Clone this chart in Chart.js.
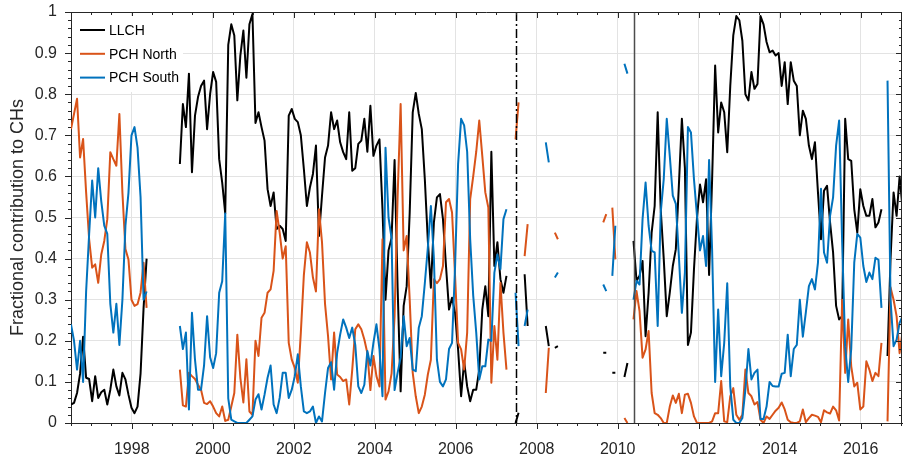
<!DOCTYPE html>
<html>
<head>
<meta charset="utf-8">
<script src="https://cdn.jsdelivr.net/npm/chart.js@4.4.1/dist/chart.umd.min.js"></script>
<style>
  html, body { margin: 0; padding: 0; background: #fff; }
  #wrap { width: 903px; height: 459px; position: relative; }
</style>
</head>
<body>
<div id="wrap"><canvas id="ch-chart"></canvas></div>
<script>
// one value per Carrington rotation, starting mid 1996
const startYear = 1996.5;
const rotationYears = 27.2753 / 365.25;

const seriesLabels = ['LLCH', 'PCH North', 'PCH South'];
const seriesColors = ['#000000', '#D95319', '#0072BD'];

const llch = [
  0.045, 0.049, 0.073, 0.12, 0.21, 0.11, 0.107, 0.053, 0.114, 0.061, 0.075, 0.081,
  0.045, 0.081, 0.13, 0.089, 0.067, 0.122, 0.106, 0.069, 0.037, 0.024, 0.04, 0.12,
  0.28, 0.40, null, null, null, null, null, null, null, null, null, null,
  0.63, 0.776, 0.72, 0.85, 0.61, 0.748, 0.793, 0.82, 0.833, 0.715, 0.80, 0.854,
  0.83, 0.642, 0.585, 0.51, 0.92, 0.97, 0.943, 0.785, 0.894, 0.955, 0.84, 0.97,
  0.995, 0.73, 0.756, 0.72, 0.687, 0.569, 0.528, 0.561, 0.472, 0.48, 0.472, 0.443,
  0.748, 0.764, 0.74, 0.732, 0.70, 0.618, 0.528, 0.573, 0.606, 0.675, 0.455, 0.553,
  0.646, 0.675, 0.756, 0.715, 0.736, 0.683, 0.659, 0.642, 0.756, 0.614, 0.62, 0.679,
  0.687, 0.74, 0.66, 0.772, 0.65, 0.675, 0.69, 0.52, 0.30, 0.42, 0.45, 0.64,
  0.33, 0.077, 0.285, 0.333, 0.512, 0.756, 0.803, 0.752, 0.715, 0.593, 0.443, 0.329,
  0.488, 0.549, 0.557, 0.496, 0.382, 0.276, 0.305, 0.268, 0.179, 0.065, 0.15, 0.089,
  0.053, 0.081, 0.081, 0.13, 0.276, 0.333, 0.26, 0.66, 0.382, 0.44, 0.35, 0.317,
  0.358, null, null, 0.0, 0.025, null, 0.362, 0.236, null, null, null, null,
  null, 0.236, 0.187, null, 0.183, 0.187, null, null, null, null, null, null,
  null, null, null, null, null, null, null, null, 0.171, 0.171, null, 0.122,
  0.122, null, null, 0.112, 0.146, null, 0.443, 0.346, 0.358, 0.394, 0.211, 0.317,
  0.463, 0.528, 0.756, 0.52, 0.40, 0.26, 0.317, 0.382, 0.423, 0.577, 0.74, 0.62,
  0.19, 0.22, 0.374, 0.50, 0.58, 0.537, 0.593, 0.36, 0.593, 0.87, 0.707, 0.78,
  0.756, 0.659, 0.82, 0.943, 0.99, 0.98, 0.93, 0.80, 0.785, 0.854, 0.813, 0.825,
  0.99, 0.97, 0.927, 0.902, 0.906, 0.894, 0.90, 0.82, 0.878, 0.776, 0.878, 0.833,
  0.82, 0.70, 0.76, 0.74, 0.675, 0.642, 0.683, 0.561, 0.447, 0.565, 0.577, 0.488,
  0.415, 0.285, 0.252, 0.26, 0.74, 0.642, 0.638, 0.52, 0.463, 0.569, 0.528, 0.504,
  0.504, 0.545, 0.476, 0.488, 0.52, null, 0.163, 0.40, 0.561, 0.504, 0.60, 0.52
];

const pchNorth = [
  0.715, 0.752, 0.789, 0.646, 0.691, 0.561, 0.447, 0.378, 0.386, 0.341, 0.41, 0.443,
  0.496, 0.659, 0.642, 0.626, 0.752, 0.561, 0.423, 0.398, 0.30, 0.285, 0.289, 0.317,
  0.39, 0.28, null, null, null, null, null, null, null, null, null, null,
  0.13, 0.043, 0.04, 0.122, 0.114, 0.107, 0.093, 0.081, 0.049, 0.046, 0.053, 0.04,
  0.024, 0.016, 0.04, 0.005, 0.008, 0.04, 0.073, 0.215, 0.11, 0.05, 0.155, 0.028,
  0.02, 0.2, 0.163, 0.256, 0.268, 0.317, 0.325, 0.37, 0.516, 0.463, 0.40, 0.43,
  0.195, 0.154, 0.134, 0.098, 0.22, 0.36, 0.44, 0.415, 0.354, 0.32, 0.52, 0.44,
  0.29, 0.211, 0.106, 0.22, 0.118, 0.112, 0.102, 0.106, 0.045, 0.13, 0.228, 0.24,
  0.228, 0.203, 0.17, 0.08, 0.163, 0.114, 0.089, 0.447, 0.057, 0.077, 0.12, 0.26,
  0.55, 0.776, 0.42, 0.455, 0.30, 0.122, 0.065, 0.024, 0.04, 0.069, 0.118, 0.154,
  0.35, 0.34, 0.35, 0.382, 0.537, 0.545, 0.512, 0.358, 0.195, 0.179, 0.13, 0.22,
  0.545, 0.60, 0.66, 0.736, 0.65, 0.561, 0.524, 0.098, 0.236, 0.154, 0.341, 0.22,
  0.13, null, null, 0.69, 0.78, null, 0.406, 0.484, null, null, null, null,
  null, 0.073, 0.183, null, 0.463, 0.447, null, null, null, null, null, null,
  null, null, null, null, null, null, null, null, 0.488, 0.508, null, 0.524,
  0.398, null, null, 0.012, 0.0, null, 0.252, 0.321, 0.272, 0.159, 0.179, 0.224,
  0.073, 0.024, 0.02, 0.012, 0.0, 0.0, 0.04, 0.067, 0.049, 0.071, 0.024, 0.069,
  0.071, 0.049, 0.016, 0.0, 0.0, 0.0, 0.0, 0.0, 0.004, 0.024, 0.024, 0.102,
  0.004, 0.002, 0.065, 0.085, 0.02, 0.008, 0.02, 0.13, 0.073, 0.065, 0.045, 0.051,
  0.008, 0.0, 0.016, 0.01, 0.02, 0.03, 0.037, 0.05, 0.033, 0.008, 0.002, 0.0,
  0.0, 0.004, 0.033, 0.002, 0.012, 0.02, 0.018, 0.015, 0.002, 0.031, 0.026, 0.023,
  0.04, 0.031, 0.006, 0.30, 0.122, 0.252, 0.138, 0.089, 0.098, 0.033, 0.04, 0.15,
  0.13, 0.102, 0.122, 0.114, 0.195, null, 0.004, 0.33, 0.30, 0.26, 0.17, 0.224
];

const pchSouth = [
  0.24, 0.20, 0.13, 0.20, 0.10, 0.32, 0.46, 0.59, 0.50, 0.62, 0.54, 0.48,
  0.46, 0.29, 0.22, 0.29, 0.19, 0.30, 0.48, 0.56, 0.70, 0.72, 0.67, 0.55,
  0.30, 0.32, null, null, null, null, null, null, null, null, null, null,
  0.236, 0.18, 0.22, 0.033, 0.268, 0.154, 0.081, 0.081, 0.14, 0.26, 0.16, 0.134,
  0.17, 0.317, 0.345, 0.51, 0.06, 0.008, 0.004, 0.0, 0.0, 0.0, 0.0, 0.008,
  0.016, 0.057, 0.07, 0.033, 0.069, 0.11, 0.14, 0.045, 0.024, 0.061, 0.122, 0.122,
  0.061, 0.081, 0.114, 0.167, 0.089, 0.028, 0.024, 0.028, 0.04, 0.0, 0.016, 0.004,
  0.073, 0.134, 0.148, 0.081, 0.17, 0.215, 0.252, 0.232, 0.207, 0.232, 0.19, 0.089,
  0.073, 0.093, 0.175, 0.14, 0.195, 0.24, 0.18, 0.065, 0.67, 0.50, 0.45, 0.08,
  0.122, 0.159, 0.26, 0.187, 0.207, 0.13, 0.126, 0.232, 0.26, 0.34, 0.427, 0.528,
  0.40, 0.154, 0.10, 0.089, 0.106, 0.18, 0.195, 0.38, 0.63, 0.74, 0.724, 0.66,
  0.447, 0.31, 0.22, 0.106, 0.138, 0.138, 0.203, 0.2, 0.366, 0.41, 0.374, 0.496,
  0.52, null, null, 0.317, 0.187, null, 0.236, 0.276, null, null, null, null,
  null, 0.683, 0.634, null, 0.354, 0.366, null, null, null, null, null, null,
  null, null, null, null, null, null, null, null, 0.337, 0.321, null, 0.358,
  0.48, null, null, 0.874, 0.85, null, 0.30, 0.346, 0.337, 0.496, 0.585, 0.48,
  0.419, 0.415, 0.236, 0.512, 0.593, 0.74, 0.65, 0.553, 0.533, 0.407, 0.268, 0.366,
  0.72, 0.707, 0.593, 0.504, 0.42, 0.455, 0.382, 0.64, 0.42, 0.10, 0.276, 0.114,
  0.195, 0.34, 0.089, 0.008, 0.0, 0.0, 0.012, 0.081, 0.18, 0.106, 0.122, 0.13,
  0.01, 0.01, 0.04, 0.1, 0.09, 0.089, 0.089, 0.12, 0.122, 0.215, 0.114, 0.18,
  0.19, 0.30, 0.21, 0.27, 0.333, 0.35, 0.325, 0.39, 0.57, 0.415, 0.39, 0.504,
  0.549, 0.675, 0.736, 0.44, 0.187, 0.10, 0.18, 0.39, 0.46, 0.451, 0.382, 0.343,
  0.366, 0.35, 0.402, 0.397, 0.28, null, 0.833, 0.30, 0.187, 0.203, 0.244, 0.26
];

const yearTicks = [1998, 2000, 2002, 2004, 2006, 2008, 2010, 2012, 2014, 2016];
const valueTicks = [0, 0.1, 0.2, 0.3, 0.4, 0.5, 0.6, 0.7, 0.8, 0.9, 1];
const dashDotYear = 2007.48;
const solidLineYear = 2010.40;

const xMin = 1996.5;
const xMax = 2017.02;
const fontFamily = '"Liberation Sans", Arial, Helvetica, sans-serif';
const axisColor = '#262626';
const gridColor = '#e3e3e3';

function toPoints(values) {
  return values.map((v, i) => ({ x: startYear + i * rotationYears, y: v }));
}

// tick marks, box, marker lines and legend, MATLAB style
const framePlugin = {
  id: 'frame',
  afterDatasetsDraw(chart) {
    const ctx = chart.ctx;
    const { left, right, top, bottom } = chart.chartArea;
    const xs = chart.scales.x;
    const ys = chart.scales.y;

    ctx.save();
    ctx.beginPath();
    ctx.rect(left, top, right - left, bottom - top);
    ctx.clip();
    let x = Math.round(xs.getPixelForValue(dashDotYear)) + 0.5;
    ctx.strokeStyle = '#000';
    ctx.lineWidth = 1.5;
    ctx.setLineDash([9, 3, 2, 3]);
    ctx.beginPath();
    ctx.moveTo(x, top);
    ctx.lineTo(x, bottom);
    ctx.stroke();
    x = Math.round(xs.getPixelForValue(solidLineYear)) + 0.5;
    ctx.setLineDash([]);
    ctx.strokeStyle = '#4d4d4d';
    ctx.beginPath();
    ctx.moveTo(x, top);
    ctx.lineTo(x, bottom);
    ctx.stroke();
    ctx.restore();

    ctx.save();
    ctx.strokeStyle = axisColor;
    ctx.lineWidth = 1;
    ctx.beginPath();
    ctx.moveTo(left, Math.round(top) + 0.5);
    ctx.lineTo(right, Math.round(top) + 0.5);
    ctx.moveTo(Math.round(right) - 0.5, top);
    ctx.lineTo(Math.round(right) - 0.5, bottom);

    for (let yr = xMin; yr <= xMax; yr += 0.5) {
      const px = Math.round(xs.getPixelForValue(yr)) + 0.5;
      const major = yearTicks.includes(yr);
      const len = major ? 6 : 3;
      ctx.moveTo(px, bottom);
      ctx.lineTo(px, bottom + len);
      ctx.moveTo(px, top);
      ctx.lineTo(px, top + len);
    }
    for (let k = 0; k <= 50; k++) {
      const v = k / 50;
      const py = Math.round(ys.getPixelForValue(v)) + 0.5;
      const len = k % 5 === 0 ? 6 : 3;
      ctx.moveTo(left, py);
      ctx.lineTo(left - len, py);
      ctx.moveTo(right, py);
      ctx.lineTo(right - len, py);
    }
    ctx.stroke();
    ctx.restore();

    // legend
    ctx.save();
    ctx.fillStyle = '#ffffff';
    ctx.fillRect(left + 1, top + 4, 111, 76);
    ctx.font = '14px ' + fontFamily;
    ctx.textBaseline = 'middle';
    ctx.textAlign = 'left';
    seriesLabels.forEach((label, i) => {
      const ly = 30 + i * 23.8;
      ctx.strokeStyle = seriesColors[i];
      ctx.lineWidth = 2;
      ctx.beginPath();
      ctx.moveTo(80, ly);
      ctx.lineTo(105, ly);
      ctx.stroke();
      ctx.fillStyle = '#000';
      ctx.fillText(label, 109, ly + 1);
    });
    ctx.restore();
  }
};

const ctx = document.getElementById('ch-chart').getContext('2d');

new Chart(ctx, {
  type: 'line',
  data: {
    datasets: [
      { label: seriesLabels[0], data: toPoints(llch), borderColor: seriesColors[0], order: 3 },
      { label: seriesLabels[1], data: toPoints(pchNorth), borderColor: seriesColors[1], order: 2 },
      { label: seriesLabels[2], data: toPoints(pchSouth), borderColor: seriesColors[2], order: 1 }
    ].map(d => Object.assign(d, {
      borderWidth: 2,
      pointRadius: 0,
      tension: 0,
      fill: false,
      spanGaps: false,
      borderJoinStyle: 'round'
    }))
  },
  options: {
    responsive: true,
    maintainAspectRatio: false,
    animation: false,
    devicePixelRatio: 1,
    layout: { padding: { top: 12, right: 1, bottom: 0, left: 0 } },
    plugins: {
      legend: { display: false },
      tooltip: { enabled: false }
    },
    scales: {
      x: {
        type: 'linear',
        min: xMin,
        max: xMax,
        afterBuildTicks: (scale) => { scale.ticks = yearTicks.map(v => ({ value: v })); },
        afterFit: (scale) => {
          scale.height = 36;
          scale.paddingLeft = 0;
          scale.paddingRight = 0;
        },
        grid: { color: gridColor, drawTicks: false },
        border: { color: axisColor, width: 1 },
        ticks: {
          autoSkip: false,
          maxRotation: 0,
          padding: 17,
          color: axisColor,
          font: { family: fontFamily, size: 16 },
          callback: (v) => String(v)
        }
      },
      y: {
        min: 0,
        max: 1,
        afterBuildTicks: (scale) => { scale.ticks = valueTicks.map(v => ({ value: v })); },
        afterFit: (scale) => {
          scale.width = 71;
          scale.paddingTop = 0;
          scale.paddingBottom = 0;
        },
        grid: { color: gridColor, drawTicks: false },
        border: { color: axisColor, width: 1 },
        ticks: {
          padding: 14,
          color: axisColor,
          font: { family: fontFamily, size: 16 },
          callback: (v) => String(Math.round(v * 10) / 10)
        },
        title: {
          display: true,
          text: 'Fractional contribution to CHs',
          color: axisColor,
          font: { family: fontFamily, size: 18 },
          padding: { top: 7, bottom: 0 }
        }
      }
    }
  },
  plugins: [framePlugin]
});
</script>
</body>
</html>
